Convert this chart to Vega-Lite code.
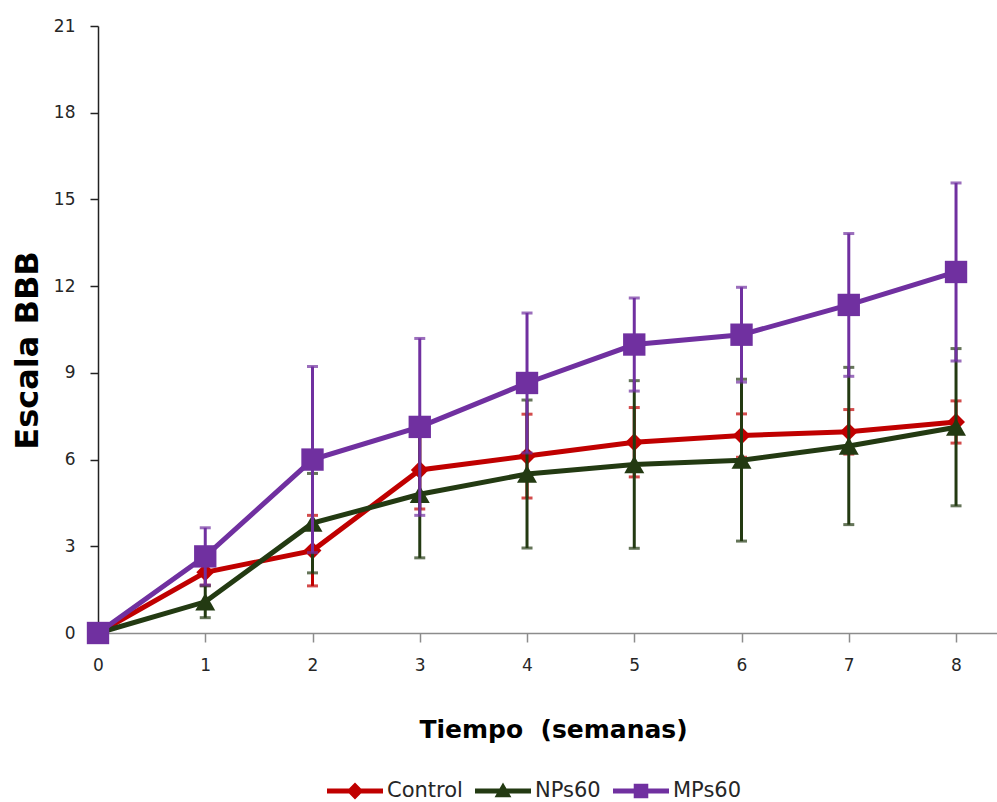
{
  "$schema": "https://vega.github.io/schema/vega-lite/v6.json",
  "autosize": {"type": "none"},
  "width": 899,
  "height": 607,
  "padding": {"left": 98, "top": 26, "right": 0, "bottom": 169},
  "background": "white",
  "config": {
    "view": {"stroke": null},
    "axis": {"grid": false, "labelFont": "DejaVu Sans", "labelFontSize": 17, "labelColor": "#262626", "titleFont": "DejaVu Sans", "titleFontWeight": "bold", "titleColor": "#000000"},
    "legend": {"labelFont": "DejaVu Sans", "labelFontSize": 21, "labelColor": "#262626", "symbolOpacity": 1, "symbolStrokeWidth": 0}
  },
  "data": {
    "values": [
      {"week": 0, "series": "Control", "mean": 0, "sd": 0},
      {"week": 1, "series": "Control", "mean": 2.1, "sd": 0.45},
      {"week": 2, "series": "Control", "mean": 2.85, "sd": 1.22},
      {"week": 3, "series": "Control", "mean": 5.64, "sd": 1.35},
      {"week": 4, "series": "Control", "mean": 6.12, "sd": 1.45},
      {"week": 5, "series": "Control", "mean": 6.6, "sd": 1.2},
      {"week": 6, "series": "Control", "mean": 6.83, "sd": 0.75},
      {"week": 7, "series": "Control", "mean": 6.96, "sd": 0.77},
      {"week": 8, "series": "Control", "mean": 7.3, "sd": 0.73},
      {"week": 0, "series": "NPs60", "mean": 0, "sd": 0},
      {"week": 1, "series": "NPs60", "mean": 1.08, "sd": 0.55},
      {"week": 2, "series": "NPs60", "mean": 3.8, "sd": 1.72},
      {"week": 3, "series": "NPs60", "mean": 4.8, "sd": 2.2},
      {"week": 4, "series": "NPs60", "mean": 5.5, "sd": 2.56},
      {"week": 5, "series": "NPs60", "mean": 5.83, "sd": 2.9},
      {"week": 6, "series": "NPs60", "mean": 5.98, "sd": 2.8},
      {"week": 7, "series": "NPs60", "mean": 6.47, "sd": 2.72},
      {"week": 8, "series": "NPs60", "mean": 7.12, "sd": 2.72},
      {"week": 0, "series": "MPs60", "mean": 0, "sd": 0},
      {"week": 1, "series": "MPs60", "mean": 2.65, "sd": 0.99},
      {"week": 2, "series": "MPs60", "mean": 6.0, "sd": 3.22},
      {"week": 3, "series": "MPs60", "mean": 7.13, "sd": 3.06},
      {"week": 4, "series": "MPs60", "mean": 8.65, "sd": 2.42},
      {"week": 5, "series": "MPs60", "mean": 9.98, "sd": 1.61},
      {"week": 6, "series": "MPs60", "mean": 10.32, "sd": 1.64},
      {"week": 7, "series": "MPs60", "mean": 11.35, "sd": 2.47},
      {"week": 8, "series": "MPs60", "mean": 12.49, "sd": 3.08}
    ]
  },
  "encoding": {
    "x": {
      "field": "week", "type": "quantitative",
      "scale": {"domain": [0, 8.382], "nice": false, "zero": false},
      "axis": {"values": [0,1,2,3,4,5,6,7,8], "format": "d", "labelFlush": false, "title": "Tiempo \u00a0(semanas)", "titleFontSize": 25, "titleX": 455, "titleY": 104, "titleAlign": "center", "titleBaseline": "alphabetic", "domainColor": "#8c8c8c", "domainWidth": 1.5, "tickColor": "#8c8c8c", "tickWidth": 1.5, "tickSize": 9, "labelPadding": 15}
    },
    "y": {
      "field": "mean", "type": "quantitative",
      "scale": {"domain": [0, 21], "nice": false},
      "axis": {"values": [0,3,6,9,12,15,18,21], "title": "Escala BBB", "titleFontSize": 32, "titleAngle": -90, "titleAlign": "center", "titleBaseline": "middle", "titleX": -71, "titleY": 324, "domainColor": "#222222", "domainWidth": 1.5, "tickColor": "#222222", "tickWidth": 1.5, "tickSize": 8, "labelPadding": 15}
    }
  },
  "layer": [
    {"transform": [{"filter": "datum.series === 'Control'"}], "mark": {"type": "errorbar", "color": "#C00000", "thickness": 3, "ticks": {"size": 11, "thickness": 3, "color": "#C00000"}}, "encoding": {"yError": {"field": "sd"}}},
    {"transform": [{"filter": "datum.series === 'Control'"}], "mark": {"type": "line", "color": "#C00000", "strokeWidth": 5}, "encoding": {}},
    {"transform": [{"filter": "datum.series === 'Control'"}], "mark": {"type": "point", "shape": "diamond", "filled": true, "opacity": 1, "color": "#C00000", "size": 320}, "encoding": {}},
    {"transform": [{"filter": "datum.series === 'NPs60'"}], "mark": {"type": "errorbar", "color": "#233A12", "thickness": 3, "ticks": {"size": 11, "thickness": 3, "color": "#233A12"}}, "encoding": {"yError": {"field": "sd"}}},
    {"transform": [{"filter": "datum.series === 'NPs60'"}], "mark": {"type": "line", "color": "#233A12", "strokeWidth": 5}, "encoding": {}},
    {"transform": [{"filter": "datum.series === 'NPs60'"}], "mark": {"type": "point", "shape": "triangle-up", "filled": true, "opacity": 1, "color": "#233A12", "size": 400}, "encoding": {}},
    {"transform": [{"filter": "datum.series === 'MPs60'"}], "mark": {"type": "errorbar", "color": "#7030A0", "thickness": 3, "ticks": {"size": 11, "thickness": 3, "color": "#7030A0"}}, "encoding": {"yError": {"field": "sd"}}},
    {"transform": [{"filter": "datum.series === 'MPs60'"}], "mark": {"type": "line", "color": "#7030A0", "strokeWidth": 5}, "encoding": {}},
    {"transform": [{"filter": "datum.series === 'MPs60'"}], "mark": {"type": "point", "shape": "square", "filled": true, "opacity": 1, "color": "#7030A0", "size": 500}, "encoding": {}},
    {
      "transform": [{"filter": "datum.week === 0"}],
      "mark": {"type": "point", "filled": true, "opacity": 0},
      "encoding": {
        "color": {"field": "series", "type": "nominal", "scale": {"domain": ["Control", "NPs60", "MPs60"], "range": ["#C00000", "#233A12", "#7030A0"]}, "legend": {"title": null, "orient": "none", "direction": "horizontal", "legendX": 229, "legendY": 737, "symbolSize": 3136, "labelOffset": 4, "columnPadding": 12}},
        "shape": {"field": "series", "type": "nominal", "scale": {"domain": ["Control", "NPs60", "MPs60"], "range": ["M-1,-0.09H1V0.09H-1Z M0,-0.3L0.3,0L0,0.3L-0.3,0Z", "M-1,-0.09H1V0.09H-1Z M0,-0.3L0.3,0.22H-0.3Z", "M-1,-0.09H1V0.09H-1Z M-0.26,-0.26H0.26V0.26H-0.26Z"]}, "legend": {"title": null, "orient": "none", "direction": "horizontal", "legendX": 229, "legendY": 737, "symbolSize": 3136, "labelOffset": 4, "columnPadding": 12}}
      }
    }
  ]
}
